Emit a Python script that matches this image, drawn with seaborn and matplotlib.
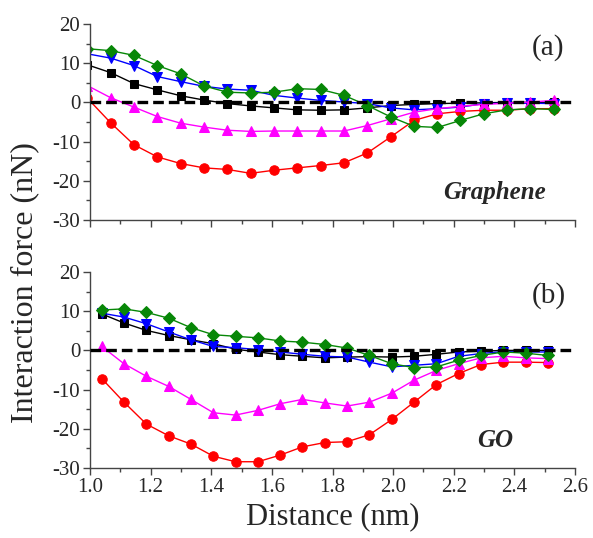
import numpy as np
import pandas as pd
import matplotlib
matplotlib.use("Agg")
import matplotlib.pyplot as plt
from matplotlib.ticker import MultipleLocator
import seaborn as sns

sns.set_theme(style="ticks")
plt.rcParams['font.family'] = ['Liberation Serif', 'DejaVu Serif']
plt.rcParams['axes.unicode_minus'] = False

# ---- data: panel (a) Graphene ----
dist_a = [0.991, 1.068, 1.145, 1.222, 1.299, 1.376, 1.453, 1.530, 1.607, 1.684,
          1.761, 1.838, 1.915, 1.992, 2.069, 2.146, 2.222, 2.299, 2.376, 2.453, 2.530]
black_a = [9.6, 7.6, 4.8, 3.2, 1.7, 0.6, -0.3, -0.9, -1.4, -1.9, -2.0,
           -1.9, -1.4, -0.8, -0.5, -0.3, -0.2, -0.1, 0.0, 0.0, 0.0]
red_a = [1.1, -5.2, -10.8, -13.9, -15.6, -16.7, -17.1, -18.1, -17.3, -16.7, -16.1,
         -15.4, -12.9, -8.8, -4.6, -2.9, -2.3, -2.0, -2.0, -1.6, -1.6]
blue_a = [12.4, 11.3, 9.4, 6.6, 5.3, 4.1, 3.4, 3.1, 1.8, 1.1, 0.5,
          0.1, -0.3, -1.4, -1.9, -1.6, -1.2, -0.3, -0.2, -0.2, -0.3]
magenta_a = [4.3, 1.2, -1.2, -3.6, -5.3, -6.3, -7.1, -7.4, -7.3, -7.3, -7.3,
             -7.3, -5.9, -4.2, -2.5, -1.6, -1.0, -0.5, -0.2, 0.1, 0.5]
green_a = [13.7, 13.2, 12.0, 9.4, 7.3, 4.2, 2.6, 2.4, 2.6, 3.5, 3.3,
           1.8, -0.8, -3.7, -6.1, -6.4, -4.6, -2.9, -1.9, -1.6, -1.8]

# ---- data: panel (b) GO ----
dist_b = [1.039, 1.112, 1.186, 1.260, 1.333, 1.407, 1.480, 1.554, 1.628, 1.701,
          1.775, 1.848, 1.922, 1.996, 2.069, 2.143, 2.216, 2.290, 2.364, 2.437, 2.511]
black_b = [9.3, 7.0, 5.1, 3.8, 2.7, 1.7, 0.3, -0.4, -1.1, -1.5, -1.9,
           -1.7, -1.6, -1.7, -1.5, -1.0, -0.4, -0.2, 0.0, 0.0, 0.0]
red_b = [-7.2, -13.2, -18.8, -21.8, -23.9, -27.0, -28.4, -28.4, -26.7, -24.6, -23.5,
         -23.3, -21.5, -17.6, -13.2, -8.7, -5.9, -3.6, -3.0, -3.0, -3.1]
blue_b = [9.5, 8.5, 6.8, 4.7, 2.7, 1.0, 0.7, 0.2, -0.4, -1.0, -1.5,
          -1.7, -3.0, -4.2, -3.8, -3.4, -1.5, -0.8, -0.3, -0.4, -0.4]
magenta_b = [1.0, -3.4, -6.6, -9.2, -12.5, -15.9, -16.5, -15.3, -13.6, -12.5, -13.4,
             -14.2, -13.2, -10.9, -7.6, -5.1, -3.4, -1.9, -1.5, -1.9, -2.1]
green_b = [10.3, 10.6, 9.7, 8.2, 5.8, 4.0, 3.6, 3.2, 2.4, 2.1, 1.5,
           0.6, -1.3, -3.4, -4.4, -4.2, -2.5, -1.3, -0.4, -0.7, -1.3]

x_ticks = [1.0, 1.2, 1.4, 1.6, 1.8, 2.0, 2.2, 2.4, 2.6]
y_ticks = [-30, -20, -10, 0, 10, 20]
panel_labels = ["(a)", "(b)"]
material_labels = ["Graphene", "GO"]

series_style = [
    ("black", "s"),
    ("#ff0000", "o"),
    ("#0000ff", "v"),
    ("#ff00ff", "^"),
    ("#078707", "D"),
]

fig = plt.figure(figsize=(5.93, 5.38), dpi=100)
ax_a = fig.add_axes([90/593, 1-220/538, 485/593, 196/538])
ax_b = fig.add_axes([90/593, 1-468/538, 485/593, 196/538])

panels = [
    (ax_a, dist_a, [black_a, red_a, blue_a, magenta_a, green_a]),
    (ax_b, dist_b, [black_b, red_b, blue_b, magenta_b, green_b]),
]

for i, (ax, xs, ys_list) in enumerate(panels):
    for (col, mk), ys in zip(series_style, ys_list):
        ms = 6.0 if mk in ("s", "D") else 6.8
        sns.lineplot(x=xs, y=ys, ax=ax, color=col, marker=mk, markersize=ms,
                     markeredgecolor=col, markerfacecolor=col, linewidth=1.0,
                     estimator=None, sort=False)
    ax.axhline(0, color="black", linestyle=(0, (3.2, 1.5)), linewidth=2.4, zorder=5)
    ax.set_xlim(1.0, 2.6)
    ax.set_ylim(-30, 20)
    ax.set_xticks(x_ticks)
    ax.set_yticks(y_ticks)
    ax.xaxis.set_minor_locator(MultipleLocator(0.1))
    ax.yaxis.set_minor_locator(MultipleLocator(5))
    ax.tick_params(which="major", direction="out", length=5, width=1,
                   labelsize=15, color="#444444", pad=2)
    ax.tick_params(which="minor", direction="out", length=3, width=1, color="#444444")
    for s in ("top", "right"):
        ax.spines[s].set_visible(False)
    for s in ("left", "bottom"):
        ax.spines[s].set_color("#444444")
        ax.spines[s].set_linewidth(1.0)
    ax.set_xlabel("")
    ax.set_ylabel("")
    ax.text(0.945, 0.88, panel_labels[i], transform=ax.transAxes, fontsize=21,
            ha="center", va="center")
    ax.text(0.835, 0.14, material_labels[i], transform=ax.transAxes, fontsize=18,
            ha="center", va="center", fontweight="bold", fontstyle="italic")
    for lab in ax.get_xticklabels() + ax.get_yticklabels():
        lab.set_fontfamily(['Liberation Serif'])

ax_a.set_xticklabels([])
ax_b.set_xticklabels([f"{t:.1f}" for t in x_ticks])
ax_b.set_xlabel("Distance (nm)", fontsize=22, labelpad=4)
fig.text(25/593, 1-283/538, "Interaction force (nN)", rotation=90, fontsize=23,
         ha="center", va="center")

fig.savefig("out.png", dpi=100)
